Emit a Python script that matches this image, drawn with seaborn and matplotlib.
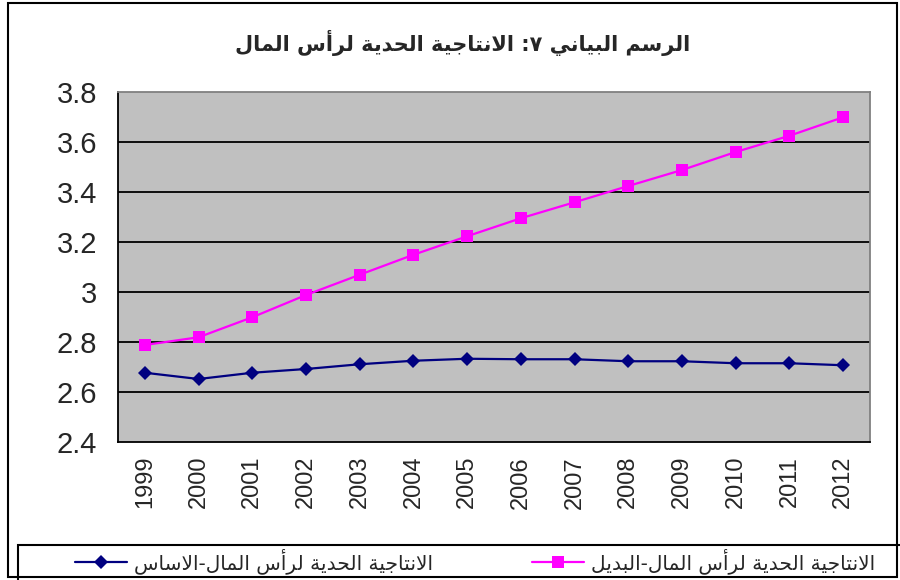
import matplotlib
matplotlib.use("Agg")
import matplotlib.pyplot as plt
from matplotlib.patches import Rectangle
from matplotlib.lines import Line2D
import pandas as pd
import seaborn as sns

years = [1999, 2000, 2001, 2002, 2003, 2004, 2005, 2006, 2007, 2008, 2009, 2010, 2011, 2012]
base = [2.677, 2.652, 2.677, 2.692, 2.711, 2.725, 2.733, 2.731, 2.731, 2.723, 2.723, 2.715, 2.715, 2.707]
alt = [2.788, 2.819, 2.899, 2.988, 3.069, 3.149, 3.223, 3.295, 3.359, 3.424, 3.488, 3.560, 3.625, 3.699]
yticks = [2.4, 2.6, 2.8, 3.0, 3.2, 3.4, 3.6, 3.8]
ylabels = ["2.4", "2.6", "2.8", "3", "3.2", "3.4", "3.6", "3.8"]

title = "الرسم البياني ٧: الانتاجية الحدية لرأس المال"
name_base = "الانتاجية الحدية لرأس المال-الاساس"
name_alt = "الانتاجية الحدية لرأس المال-البديل"

# arabic contextual forms (isolated, final, initial, medial)
FORMS = {
    "ا": ("\uFE8D", "\uFE8E", None, None),
    "أ": ("\uFE83", "\uFE84", None, None),
    "ب": ("\uFE8F", "\uFE90", "\uFE91", "\uFE92"),
    "ة": ("\uFE93", "\uFE94", None, None),
    "ت": ("\uFE95", "\uFE96", "\uFE97", "\uFE98"),
    "ج": ("\uFE9D", "\uFE9E", "\uFE9F", "\uFEA0"),
    "ح": ("\uFEA1", "\uFEA2", "\uFEA3", "\uFEA4"),
    "د": ("\uFEA9", "\uFEAA", None, None),
    "ر": ("\uFEAD", "\uFEAE", None, None),
    "س": ("\uFEB1", "\uFEB2", "\uFEB3", "\uFEB4"),
    "ل": ("\uFEDD", "\uFEDE", "\uFEDF", "\uFEE0"),
    "م": ("\uFEE1", "\uFEE2", "\uFEE3", "\uFEE4"),
    "ن": ("\uFEE5", "\uFEE6", "\uFEE7", "\uFEE8"),
    "ي": ("\uFEF1", "\uFEF2", "\uFEF3", "\uFEF4"),
}
LAM_ALEF = {"ا": ("\uFEFB", "\uFEFC"), "أ": ("\uFEF7", "\uFEF8")}


def shape(text):
    out = []
    prev_joins = False
    i = 0
    while i < len(text):
        c = text[i]
        if c not in FORMS:
            out.append(c)
            prev_joins = False
            i += 1
            continue
        if c == "ل" and i + 1 < len(text) and text[i + 1] in LAM_ALEF:
            iso, fin = LAM_ALEF[text[i + 1]]
            out.append(fin if prev_joins else iso)
            prev_joins = False
            i += 2
            continue
        nxt = text[i + 1] if i + 1 < len(text) else ""
        joins_next = FORMS[c][2] is not None and nxt in FORMS
        iso, fin, ini, med = FORMS[c]
        if prev_joins and joins_next:
            out.append(med)
        elif prev_joins:
            out.append(fin)
        elif joins_next:
            out.append(ini)
        else:
            out.append(iso)
        prev_joins = joins_next
        i += 1
    return "".join(reversed(out))


df = pd.DataFrame({
    "year": years * 2,
    "value": base + alt,
    "series": [name_base] * len(years) + [name_alt] * len(years),
})

sns.set_style("white")
plt.rcParams["font.family"] = ["Liberation Sans", "DejaVu Sans"]

fig = plt.figure(figsize=(9, 5.8), dpi=100)
ax = fig.add_axes([118 / 900, 1 - 442 / 580, 752 / 900, 350 / 580])
ax.set_facecolor("#C0C0C0")

colors = {name_base: "#000080", name_alt: "#FF00FF"}
sns.lineplot(data=df, x="year", y="value", hue="series", style="series",
             palette=colors, markers={name_base: "D", name_alt: "s"},
             dashes=False, linewidth=1.6, markeredgewidth=0,
             legend=False, ax=ax)
for ln in ax.lines:
    ln.set_markersize(8 if ln.get_marker() == "s" else 7.5)

ax.set_xlim(years[0] - 0.5, years[-1] + 0.5)
ax.set_ylim(2.4, 3.8)
ax.set_yticks(yticks)
ax.set_yticklabels(ylabels, fontsize=21)
ax.set_xticks([y - 0.5 for y in years] + [years[-1] + 0.5])
ax.set_xticklabels([])
ax.set_xticks(years, minor=True)
ax.set_xticklabels([str(y) for y in years], minor=True, rotation=90, fontsize=17)
ax.tick_params(axis="x", which="major", length=8, width=1.3, color="black", direction="out")
ax.tick_params(axis="x", which="minor", length=0, pad=10)
ax.tick_params(axis="y", length=8, width=1.3, color="black", direction="out", pad=7)
ax.set_xlabel("")
ax.set_ylabel("")
ax.grid(False)
for y in yticks[1:-1]:
    ax.axhline(y, color="black", lw=1.3, zorder=1)
for side in ["top", "right"]:
    ax.spines[side].set_color("#808080")
    ax.spines[side].set_linewidth(1.3)
for side in ["left", "bottom"]:
    ax.spines[side].set_color("black")
    ax.spines[side].set_linewidth(1.3)

fig.text(463 / 900, 1 - 43 / 580, shape(title), ha="center", va="center",
         fontsize=15, fontweight="bold", family="DejaVu Sans")

# outer chart border and legend box
fig.patches.append(Rectangle((8 / 900, 3 / 580), 889 / 900, 574 / 580,
                             transform=fig.transFigure, fill=False,
                             edgecolor="black", lw=1.5))
fig.patches.append(Rectangle((18 / 900, -10 / 580), 900 / 900, 45 / 580,
                             transform=fig.transFigure, fill=False,
                             edgecolor="black", lw=1.5))

h_base = Line2D([], [], color="#000080", marker="D", markersize=7.5, lw=1.6, markeredgewidth=0)
h_alt = Line2D([], [], color="#FF00FF", marker="s", markersize=8, lw=1.6, markeredgewidth=0)
leg_props = dict(frameon=False, loc="center left", prop={"family": "DejaVu Sans", "size": 14.5},
                 handlelength=2.6, handletextpad=0.35, borderpad=0, borderaxespad=0)
fig.legend([h_base], [shape(name_base)], bbox_to_anchor=(75 / 900, 1 - 561 / 580), **leg_props)
fig.legend([h_alt], [shape(name_alt)], bbox_to_anchor=(532 / 900, 1 - 561 / 580), **leg_props)

fig.savefig("out.png", dpi=100)
